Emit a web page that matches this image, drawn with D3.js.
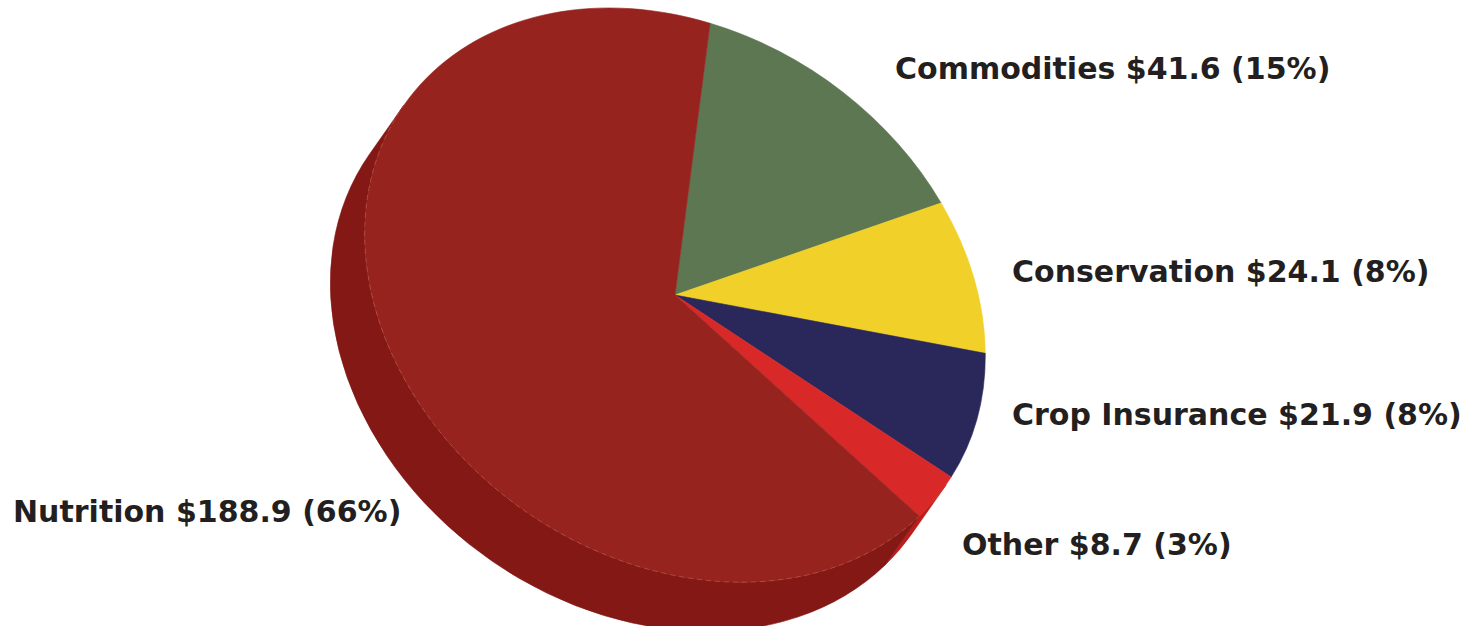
<!DOCTYPE html>
<html>
<head>
<meta charset="utf-8">
<script src="https://cdn.jsdelivr.net/npm/d3@7"></script>
<style>
  html, body { margin: 0; padding: 0; background: #ffffff; }
  svg { display: block; }
</style>
</head>
<body>
<svg id="chart" width="1468" height="626"></svg>
<script>
// ---- data ----
const categories = ["Commodities", "Conservation", "Crop Insurance", "Other", "Nutrition"];
const values = [41.6, 24.1, 21.9, 8.7, 188.9];
const colors = ["#5c7752", "#f1d129", "#2a285a", "#d82828", "#97231f"];

// ---- layout (screen geometry of the tilted disc) ----
const cx = 675, cy = 295;        // centre of top face
const tilt = 35;                 // rotation of ellipse (deg)
const rx = 331, ry = 263;        // semi-axes of top face
const depth = 60;                // thickness along minor axis (px)
const startDeg = -22.6;          // where first slice starts
const labelLayout = [            // [x, baseline y] per category
  [895, 79], [1012, 282], [1012, 425], [962, 555], [13, 522]
];

const svg = d3.select("#chart");
const total = d3.sum(values);
const data = categories.map((c, i) => ({ name: c, value: values[i], color: colors[i] }));

const pie = d3.pie().sort(null).value(d => d.value)
  .startAngle(startDeg * Math.PI / 180)
  .endAngle(startDeg * Math.PI / 180 + 2 * Math.PI);
const arcs = pie(data);
const arc = d3.arc().innerRadius(0).outerRadius(1);

function sideColor(c) {
  const r = d3.rgb(c);
  return d3.rgb(r.r * 0.87, r.g * 0.69, r.b * 0.68).formatHex();
}

// disc group in unit-circle space
const g = svg.append("g")
  .attr("transform", `translate(${cx},${cy}) rotate(${tilt}) scale(${rx},${ry})`);

const k = depth / ry;  // extrusion in unit space (along +y)

// side faces (front half only: alpha in [0, PI])
function sidePath(d) {
  let a1 = d.startAngle - Math.PI / 2, a2 = d.endAngle - Math.PI / 2;
  a1 = Math.max(a1, 0); a2 = Math.min(a2, Math.PI);
  if (a2 <= a1) return null;
  const x1 = Math.cos(a1), y1 = Math.sin(a1), x2 = Math.cos(a2), y2 = Math.sin(a2);
  return `M${x1},${y1} A1,1 0 0 1 ${x2},${y2} L${x2},${y2 + k} A1,1 0 0 0 ${x1},${y1 + k} Z`;
}
g.selectAll("path.side")
  .data(arcs.filter(d => sidePath(d)))
  .join("path")
  .attr("class", "side")
  .attr("d", sidePath)
  .attr("fill", d => sideColor(d.data.color))
  .attr("stroke", d => sideColor(d.data.color))
  .attr("stroke-width", 0.6)
  .attr("vector-effect", "non-scaling-stroke");

// top faces
g.selectAll("path.top")
  .data(arcs)
  .join("path")
  .attr("class", "top")
  .attr("d", arc)
  .attr("fill", d => d.data.color)
  .attr("stroke", d => d.data.color)
  .attr("stroke-width", 0.6)
  .attr("vector-effect", "non-scaling-stroke");

// faint dashed rim along the front edge of the top face
const rimStart = arcs[arcs.length - 1].startAngle - Math.PI / 2;
g.append("path")
  .attr("d", `M${Math.cos(rimStart)},${Math.sin(rimStart)} A1,1 0 0 1 -1,0`)
  .attr("fill", "none")
  .attr("stroke", "#c0684c")
  .attr("stroke-opacity", 0.55)
  .attr("stroke-width", 1)
  .attr("stroke-dasharray", "5,4")
  .attr("vector-effect", "non-scaling-stroke");

// labels
svg.append("g").selectAll("text")
  .data(data)
  .join("text")
  .attr("x", (d, i) => labelLayout[i][0])
  .attr("y", (d, i) => labelLayout[i][1])
  .attr("font-family", "'DejaVu Sans', sans-serif")
  .attr("font-weight", "bold")
  .attr("font-size", 30)
  .attr("fill", "#231f20")
  .text(d => `${d.name} $${d.value.toFixed(1)} (${Math.round(d.value / total * 100)}%)`);
</script>
</body>
</html>
